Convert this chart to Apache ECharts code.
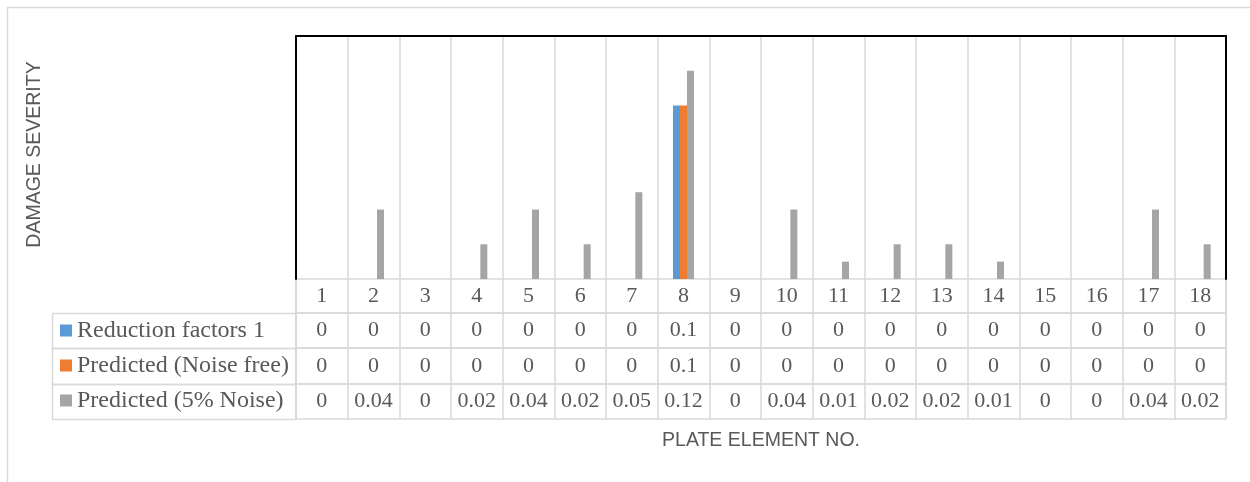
<!DOCTYPE html>
<html><head><meta charset="utf-8">
<script src="https://cdn.jsdelivr.net/npm/echarts@6/dist/echarts.min.js"></script>
<style>html,body{margin:0;padding:0;background:#fff}#c{width:1250px;height:482px}</style>
</head><body><div id="c"></div>
<script>
const categories = ['1','2','3','4','5','6','7','8','9','10','11','12','13','14','15','16','17','18'];
const reductionFactors = [0,0,0,0,0,0,0,0.1,0,0,0,0,0,0,0,0,0,0];
const predictedNoiseFree = [0,0,0,0,0,0,0,0.1,0,0,0,0,0,0,0,0,0,0];
const predicted5Noise = [0,0.04,0,0.02,0.04,0.02,0.05,0.12,0,0.04,0.01,0.02,0.02,0.01,0,0,0.04,0.02];
const seriesNames = ['Reduction factors 1','Predicted (Noise free)','Predicted (5% Noise)'];
const yTitle = 'DAMAGE SEVERITY';
const xTitle = 'PLATE ELEMENT NO.';

const colors = ['#5B9BD5','#ED7D31','#A5A5A5'];
const gridLine = '#d9d9d9';
const textColor = '#595959';
const serif = '"Liberation Serif","Times New Roman",serif';
const sans = '"Liberation Sans",Arial,sans-serif';

const plot = {left:296, top:36, width:930, height:243};
const rows = [{top:279,h:34},{top:313,h:35},{top:348,h:36},{top:384,h:35}];
const rowData = [null, reductionFactors, predictedNoiseFree, predicted5Noise];

const grids = [Object.assign({}, plot, {show:false})];
rows.forEach(r => grids.push({left:plot.left, width:plot.width, top:r.top, height:r.h, show:true, borderColor:gridLine, borderWidth:1.5, backgroundColor:'transparent'}));

const xAxes = [
  {type:'category', gridIndex:0, data:categories, position:'bottom', axisLine:{show:false}, axisTick:{show:false}, axisLabel:{show:false},
   splitLine:{show:true, interval:0, lineStyle:{color:gridLine, width:1.5}}},
  {type:'category', gridIndex:0, data:categories, position:'top', axisLine:{show:true, onZero:false, lineStyle:{color:'#000', width:2}}, axisTick:{show:false}, axisLabel:{show:false}, splitLine:{show:false}}
];
rows.forEach((r,i) => {
  const arr = rowData[i];
  xAxes.push({type:'category', gridIndex:i+1, data:categories, position:'bottom',
    axisLine:{show:false}, axisTick:{show:false},
    splitLine:{show:true, interval:0, lineStyle:{color:gridLine, width:1.5}},
    axisLabel:{show:true, inside:true, margin:r.h/2, verticalAlign:'middle', interval:0,
      fontFamily:serif, fontSize:22, color:textColor,
      formatter:(v, idx) => arr ? String(arr[idx]) : v}
  });
});

const yAxes = [
  {type:'value', gridIndex:0, min:0, max:0.14, position:'left',
   axisLine:{show:true, onZero:false, lineStyle:{color:'#000', width:2}}, axisTick:{show:false}, axisLabel:{show:false}, splitLine:{show:false}},
  {type:'value', gridIndex:0, min:0, max:0.14, position:'right',
   axisLine:{show:true, onZero:false, lineStyle:{color:'#000', width:2}}, axisTick:{show:false}, axisLabel:{show:false}, splitLine:{show:false}}
];
rows.forEach((r,i) => yAxes.push({type:'value', gridIndex:i+1, show:false}));

const values = [reductionFactors, predictedNoiseFree, predicted5Noise];
const series = values.map((d,i) => ({
  name:seriesNames[i], type:'bar', xAxisIndex:0, yAxisIndex:0, data:d,
  barWidth:7, barGap:'0%', itemStyle:{color:colors[i]}
}));

const graphic = [
  {type:'rect', shape:{x:7.5, y:7.5, width:1400, height:600}, style:{fill:'none', stroke:gridLine, lineWidth:1.5}, silent:true},
];
rows.slice(1).forEach(r => graphic.push({type:'rect', shape:{x:52.5, y:r.top+0.5, width:243.5, height:r.h}, style:{fill:'none', stroke:gridLine, lineWidth:1.5}, silent:true}));
graphic.push({type:'text', x:761, y:431, style:{text:xTitle, textAlign:'center', textVerticalAlign:'top', font:'19.5px '+sans, fill:textColor}, silent:true});
graphic.push({type:'text', x:34.5, y:154.5, rotation:Math.PI/2, style:{text:yTitle, textAlign:'center', textVerticalAlign:'middle', font:'19.5px '+sans, fill:textColor}, silent:true});

const chart = echarts.init(document.getElementById('c'), null, {renderer:'canvas'});
chart.setOption({
  animation:false,
  backgroundColor:'#fff',
  grid:grids, xAxis:xAxes, yAxis:yAxes, series:series,
  legend:{orient:'vertical', left:60, top:313, padding:0, itemGap:0, itemWidth:12, itemHeight:12, icon:'rect', selectedMode:false,
    data:seriesNames, textStyle:{fontFamily:serif, fontSize:24, color:textColor, lineHeight:35}},
  graphic:graphic
});
</script></body></html>
